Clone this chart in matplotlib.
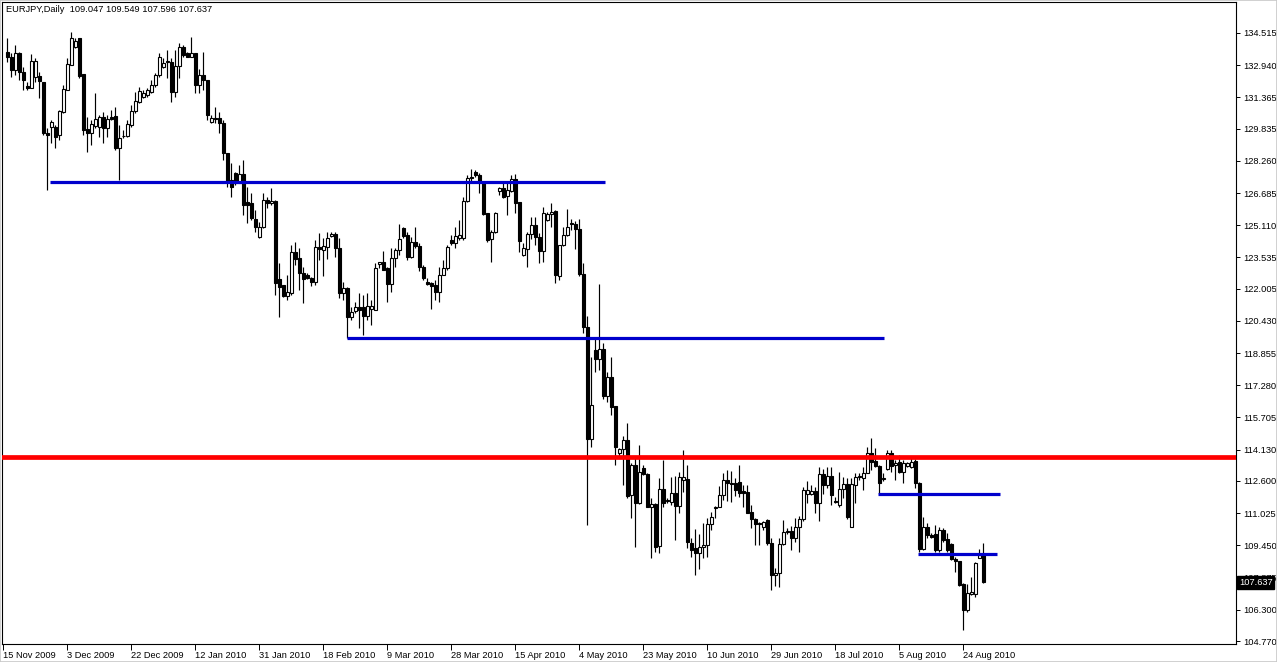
import matplotlib
matplotlib.use("Agg")
import matplotlib.pyplot as plt
import matplotlib.transforms as mtransforms

# EURJPY daily bars (oldest first)
opens = [
    133.60, 133.36, 132.70, 133.52, 132.62, 131.94, 131.81, 132.38, 132.43, 132.13,
    129.64, 129.93, 129.93, 129.52, 130.67, 131.73, 132.95, 133.85, 134.25, 132.49,
    129.80, 129.61, 129.96, 129.93, 130.42, 129.88, 130.42, 130.47, 128.90, 129.47,
    129.49, 130.01, 130.70, 131.16, 131.40, 131.48, 131.65, 131.97, 132.46, 132.87,
    133.08, 133.11, 131.64, 132.90, 133.85, 133.52, 133.36, 133.52, 131.97, 132.46,
    132.22, 130.18, 130.34, 130.34, 130.13, 128.66, 127.32, 127.68, 127.19, 127.62,
    126.26, 126.21, 125.40, 124.52, 125.04, 126.35, 126.18, 126.31, 122.46, 122.19,
    121.67, 121.78, 123.82, 123.49, 122.76, 122.68, 122.51, 122.35, 124.03, 123.90,
    124.06, 124.60, 124.68, 123.98, 121.81, 122.02, 120.64, 120.93, 121.13, 121.13,
    120.67, 120.99, 120.96, 123.20, 123.30, 123.00, 122.24, 123.52, 123.90, 124.96,
    124.63, 123.57, 124.31, 124.09, 123.05, 122.32, 122.27, 122.19, 121.86, 122.68,
    123.00, 124.39, 124.23, 124.47, 124.47, 126.31, 127.49, 127.73, 127.57, 127.24,
    125.69, 124.42, 124.80, 126.80, 126.92, 126.54, 126.80, 127.36, 126.26, 123.66,
    123.93, 124.68, 125.12, 124.55, 123.87, 125.37, 125.66, 125.82, 122.63, 124.14,
    124.63, 125.20, 125.17, 124.91, 122.73, 120.12, 114.64, 119.01, 118.55, 119.04,
    116.76, 117.67, 116.27, 113.95, 114.15, 114.60, 111.91, 113.38, 111.54, 113.22,
    112.94, 111.31, 111.47, 109.42, 112.19, 111.62, 111.59, 111.99, 111.38, 112.65,
    112.68, 109.55, 109.30, 109.06, 109.35, 109.47, 110.48, 111.26, 111.34, 111.91,
    112.65, 112.52, 112.48, 112.57, 112.11, 112.08, 111.10, 110.72, 110.53, 110.37,
    110.69, 109.55, 108.00, 108.08, 109.52, 110.12, 110.15, 109.79, 110.37, 110.72,
    111.96, 111.96, 112.13, 111.54, 112.94, 112.40, 112.84, 111.64, 111.42, 112.19,
    112.45, 110.33, 112.40, 112.78, 112.73, 112.97, 113.98, 113.59, 113.33, 112.71,
    113.17, 113.98, 113.38, 113.55, 113.06, 113.33, 113.30, 113.59, 112.52, 109.26,
    110.33, 109.96, 110.01, 109.22, 110.20, 109.75, 109.52, 108.77, 108.70, 107.56,
    106.29, 107.07, 107.07, 108.82, 109.047,
]
highs = [
    134.25, 133.52, 133.93, 133.60, 132.87, 132.13, 133.47, 133.28, 132.62, 132.13,
    129.85, 130.26, 130.01, 130.75, 131.97, 133.28, 134.55, 134.25, 134.25, 132.49,
    130.42, 130.26, 131.56, 130.50, 130.63, 130.50, 130.75, 130.91, 130.01, 129.77,
    130.26, 130.99, 131.65, 131.89, 131.73, 131.84, 132.22, 132.54, 133.52, 133.28,
    133.68, 133.28, 133.68, 134.04, 133.93, 133.60, 134.30, 133.52, 132.74, 133.60,
    132.22, 130.50, 130.91, 130.67, 130.26, 128.66, 128.14, 127.73, 128.06, 128.30,
    126.99, 126.67, 125.86, 125.29, 126.67, 126.51, 126.92, 126.35, 123.25, 122.19,
    122.68, 124.14, 124.31, 123.98, 123.08, 122.76, 122.56, 124.39, 124.71, 124.47,
    124.80, 124.80, 124.80, 124.47, 122.35, 122.10, 121.13, 121.37, 121.81, 121.70,
    121.81, 121.45, 123.25, 123.33, 123.87, 123.08, 123.98, 123.98, 125.17, 125.04,
    124.80, 124.55, 125.04, 124.23, 123.17, 122.51, 122.35, 122.43, 123.08, 123.41,
    124.14, 124.63, 125.04, 125.37, 126.51, 127.57, 127.84, 127.81, 127.65, 127.24,
    125.69, 124.88, 125.77, 127.00, 127.16, 127.16, 127.57, 127.62, 126.26, 124.23,
    124.80, 125.53, 125.53, 124.71, 125.99, 125.78, 126.21, 125.86, 124.14, 125.01,
    125.89, 125.40, 125.33, 125.40, 123.28, 120.67, 118.68, 119.66, 122.24, 119.37,
    117.95, 118.65, 116.27, 114.20, 114.80, 115.45, 113.46, 113.79, 114.36, 113.38,
    112.97, 111.75, 111.54, 112.73, 113.63, 111.75, 112.81, 112.84, 113.06, 114.12,
    113.38, 109.79, 110.23, 110.01, 110.53, 110.77, 111.10, 111.38, 112.35, 112.97,
    113.14, 113.10, 112.73, 113.38, 112.40, 112.40, 111.42, 110.77, 110.61, 110.66,
    110.72, 109.79, 108.33, 109.79, 110.69, 110.28, 110.40, 110.77, 110.89, 112.32,
    112.62, 112.40, 112.32, 113.30, 113.17, 113.27, 113.30, 111.83, 113.06, 112.81,
    112.73, 112.73, 112.97, 112.97, 113.30, 114.28, 114.69, 114.20, 113.38, 112.97,
    114.12, 114.12, 113.63, 113.87, 113.63, 113.55, 113.82, 113.66, 112.57, 110.82,
    110.56, 110.04, 110.45, 110.37, 110.28, 110.07, 109.55, 108.87, 108.70, 107.59,
    107.56, 107.92, 108.65, 109.26, 109.549,
]
lows = [
    133.11, 132.38, 132.46, 132.22, 131.73, 131.73, 131.81, 132.13, 131.32, 129.52,
    126.83, 129.12, 128.87, 129.28, 130.58, 131.73, 132.95, 133.76, 132.30, 129.52,
    128.71, 129.03, 129.85, 129.44, 129.12, 129.44, 130.26, 128.79, 127.32, 129.36,
    129.44, 129.93, 130.58, 131.07, 131.35, 131.40, 131.56, 131.89, 132.38, 132.79,
    132.30, 131.16, 131.40, 132.30, 133.36, 133.32, 133.36, 131.56, 131.56, 131.73,
    130.26, 130.10, 130.10, 129.61, 128.30, 126.99, 126.51, 127.08, 127.16, 125.61,
    125.20, 125.37, 124.80, 124.47, 124.96, 125.94, 126.10, 121.70, 120.64, 121.62,
    121.45, 121.70, 123.16, 121.94, 121.32, 122.46, 122.14, 122.19, 123.41, 122.63,
    123.44, 124.55, 123.57, 121.54, 121.45, 119.58, 120.47, 120.80, 120.07, 119.74,
    120.47, 120.23, 120.96, 123.00, 122.92, 121.37, 121.86, 123.08, 123.65, 124.47,
    123.41, 123.49, 123.98, 122.89, 122.43, 122.19, 120.99, 121.45, 121.37, 122.68,
    122.92, 124.14, 123.98, 124.39, 124.39, 126.26, 127.16, 127.49, 126.67, 125.61,
    124.31, 123.33, 124.71, 126.59, 126.43, 125.61, 126.75, 125.73, 123.82, 123.61,
    123.08, 124.42, 124.14, 123.25, 123.33, 125.33, 125.04, 122.27, 122.43, 124.10,
    124.58, 124.88, 123.93, 122.63, 119.86, 110.45, 114.28, 117.95, 118.03, 116.59,
    116.48, 115.83, 113.38, 113.82, 112.40, 111.75, 110.77, 109.39, 111.46, 112.89,
    111.31, 108.82, 109.14, 109.06, 111.34, 111.51, 111.42, 109.71, 111.02, 112.08,
    109.30, 108.90, 108.00, 108.28, 108.82, 108.90, 110.20, 110.77, 111.31, 111.67,
    111.64, 111.59, 111.88, 111.83, 111.34, 111.02, 110.28, 109.47, 109.47, 110.20,
    109.47, 107.27, 107.46, 107.43, 109.47, 110.01, 109.22, 109.63, 109.14, 110.66,
    111.51, 111.91, 111.05, 110.66, 111.96, 112.24, 111.42, 111.54, 111.34, 111.75,
    110.72, 110.33, 111.51, 112.65, 112.16, 112.97, 113.14, 113.30, 111.96, 112.62,
    113.14, 113.06, 112.65, 112.97, 112.48, 113.27, 113.22, 112.24, 109.14, 109.22,
    109.79, 109.79, 109.14, 109.14, 109.63, 109.14, 108.73, 108.16, 107.46, 105.31,
    106.21, 107.02, 106.94, 108.82, 107.596,
]
closes = [
    133.32, 132.70, 133.52, 132.62, 132.22, 131.84, 133.14, 133.14, 132.17, 129.61,
    129.52, 130.18, 129.44, 130.70, 131.76, 132.98, 134.25, 134.12, 132.41, 129.77,
    129.61, 130.06, 130.29, 130.42, 129.88, 130.29, 130.29, 128.87, 129.39, 129.50,
    130.05, 130.70, 131.19, 131.68, 131.60, 131.73, 131.97, 132.46, 133.32, 133.03,
    133.14, 131.64, 132.90, 133.85, 133.44, 133.36, 133.52, 131.97, 132.46, 132.22,
    130.50, 130.34, 130.29, 130.10, 128.66, 127.24, 126.99, 127.16, 127.62, 126.10,
    126.10, 125.45, 125.04, 125.04, 126.35, 126.18, 126.30, 122.27, 122.07, 121.65,
    121.83, 123.82, 123.44, 122.79, 122.46, 122.51, 122.35, 124.03, 123.93, 124.09,
    124.47, 124.68, 123.98, 121.81, 122.02, 120.64, 120.88, 121.13, 120.96, 120.67,
    121.16, 121.16, 123.00, 123.30, 122.92, 122.24, 123.52, 123.90, 124.44, 124.58,
    123.57, 124.31, 124.09, 123.05, 122.51, 122.24, 122.14, 121.86, 122.68, 123.00,
    124.06, 124.26, 124.58, 124.63, 126.31, 127.41, 127.41, 127.57, 127.24, 125.66,
    124.39, 124.80, 125.69, 126.92, 126.51, 126.83, 127.36, 126.21, 124.36, 123.98,
    124.68, 125.12, 124.52, 123.87, 125.69, 125.66, 125.78, 122.68, 124.14, 124.63,
    125.01, 125.16, 124.91, 122.73, 120.12, 114.64, 116.32, 118.55, 119.04, 116.76,
    117.67, 116.23, 114.24, 114.15, 114.60, 111.86, 113.38, 111.51, 113.06, 112.94,
    111.31, 111.47, 109.39, 112.19, 111.51, 111.64, 111.99, 111.38, 112.78, 112.78,
    109.63, 109.22, 109.06, 109.39, 109.47, 110.48, 110.82, 111.34, 111.91, 112.65,
    112.48, 112.45, 112.16, 112.03, 111.99, 111.05, 110.72, 110.48, 110.48, 110.61,
    109.55, 108.00, 108.12, 109.52, 110.12, 110.17, 109.79, 110.37, 110.72, 112.16,
    112.16, 112.11, 111.54, 112.94, 112.40, 112.84, 111.91, 111.57, 112.19, 112.45,
    110.82, 112.45, 112.78, 112.84, 112.97, 113.98, 113.55, 113.33, 112.48, 112.76,
    113.98, 113.33, 113.50, 113.06, 113.46, 113.46, 113.55, 112.48, 109.26, 110.33,
    109.96, 109.88, 109.22, 110.20, 109.71, 109.22, 108.77, 108.70, 107.51, 106.29,
    107.14, 107.19, 108.60, 108.98, 107.637,
]

# date labels sit every 16 bars, starting one bar before the first visible bar
date_labels = ["15 Nov 2009", "3 Dec 2009", "22 Dec 2009", "12 Jan 2010",
               "31 Jan 2010", "18 Feb 2010", "9 Mar 2010", "28 Mar 2010",
               "15 Apr 2010", "4 May 2010", "23 May 2010", "10 Jun 2010",
               "29 Jun 2010", "18 Jul 2010", "5 Aug 2010", "24 Aug 2010"]
date_bars = [-1 + 16 * k for k in range(len(date_labels))]

price_labels = ["134.515", "132.940", "131.365", "129.835", "128.260", "126.685",
                "125.110", "123.535", "122.005", "120.430", "118.855", "117.280",
                "115.705", "114.130", "112.600", "111.025", "109.450", "107.875",
                "106.300", "104.770"]

# horizontal levels drawn on the chart: (first bar, last bar, price)
red_level = 113.76
blue_levels = [(10.7, 149.3, 127.24),
               (84.9, 219.2, 119.58),
               (217.7, 248.2, 111.96),
               (227.7, 247.3, 109.03)]

SYMBOL = "EURJPY,Daily"
FONT = ["Liberation Sans", "DejaVu Sans"]
FS = 6.7


def draw_candles(ax):
    xs = range(len(closes))
    ax.vlines(xs, lows, highs, color="black", linewidth=0.85, zorder=2)
    for i in xs:
        o, c = opens[i], closes[i]
        bottom = min(o, c)
        height = max(abs(c - o), 0.03)
        face = "white" if c >= o else "black"
        ax.bar(i, height, bottom=bottom, width=0.6, color=face,
               edgecolor="black", linewidth=0.8, zorder=3)


def main():
    plt.rcParams["font.family"] = FONT
    fig = plt.figure(figsize=(12.77, 6.62), dpi=100)
    ax = fig.add_axes([2 / 1277, 18 / 662, 1234 / 1277, 642 / 662])

    draw_candles(ax)

    ax.axhline(red_level, color="#ff0000", linewidth=3.4, zorder=4)
    for x0, x1, level in blue_levels:
        ax.hlines(level, x0, x1, color="#0000cc", linewidth=2.3, zorder=4)

    ax.set_xlim(-1.33, 307.17)
    ax.set_ylim(104.624, 136.031)

    for side in ["left", "right", "top", "bottom"]:
        ax.spines[side].set_color("black")
        ax.spines[side].set_linewidth(0.8)

    ax.yaxis.tick_right()
    ax.set_yticks([float(p) for p in price_labels])
    ax.set_yticklabels(price_labels)
    ax.tick_params(axis="y", direction="out", length=3, width=0.7,
                   pad=2, labelsize=FS, colors="black")

    ax.set_xticks(date_bars)
    ax.set_xticklabels(date_labels)
    ax.tick_params(axis="x", direction="out", length=4, width=0.7,
                   pad=1, labelsize=FS, colors="black")
    for lab in ax.get_xticklabels():
        lab.set_horizontalalignment("left")

    # current price marker on the price scale
    trans = mtransforms.blended_transform_factory(ax.transAxes, ax.transData)
    ax.text(1.0 + 3 / 1234, closes[-1], f"{closes[-1]:.3f}", transform=trans,
            color="white", fontsize=FS, ha="left", va="center", zorder=10,
            clip_on=False,
            bbox=dict(facecolor="black", edgecolor="black", pad=1.3))

    header = f"{SYMBOL}  {opens[-1]:.3f} {highs[-1]:.3f} {lows[-1]:.3f} {closes[-1]:.3f}"
    fig.text(6 / 1277, 1 - 10 / 662, header, fontsize=FS, color="black",
             ha="left", va="center")

    # light grey outer frame of the terminal window
    fig.patches.append(plt.Rectangle((0, 0), 1, 1, transform=fig.transFigure,
                                     fill=False, edgecolor="#c8c8c8",
                                     linewidth=1.2))

    fig.savefig("out.png", dpi=100, facecolor="white")


if __name__ == "__main__":
    main()
